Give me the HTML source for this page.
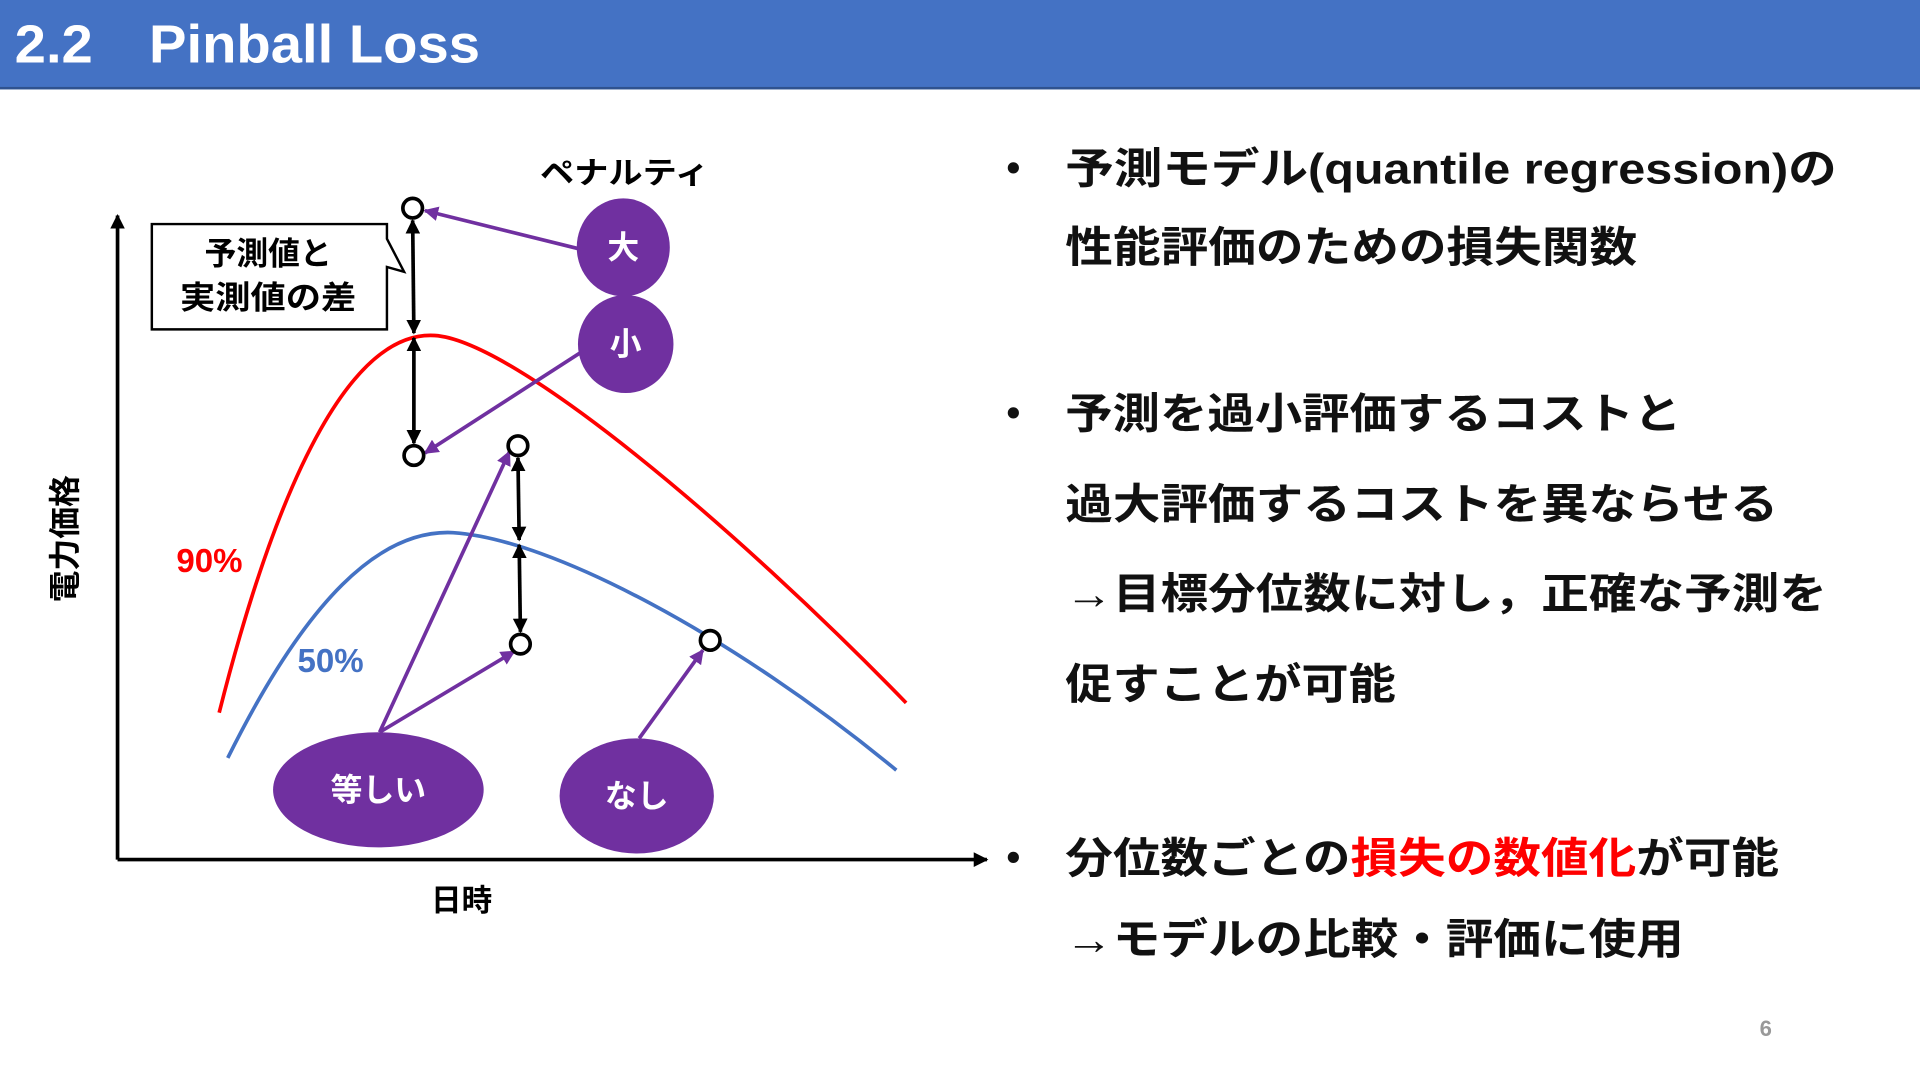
<!DOCTYPE html>
<html><head><meta charset="utf-8"><style>
html,body{margin:0;padding:0;width:1920px;height:1080px;overflow:hidden;background:#fff}
svg{display:block}
text{font-family:"Liberation Sans","Noto Sans CJK JP",sans-serif;font-weight:bold}
</style></head><body>
<svg width="1920" height="1080" viewBox="0 0 1568 882" xmlns="http://www.w3.org/2000/svg">
<defs>
<marker id="ab" viewBox="0 0 10 10" refX="9" refY="5" markerWidth="4" markerHeight="4" orient="auto-start-reverse"><path d="M0,0L10,5L0,10z" fill="#000"/></marker>
<marker id="ap" viewBox="0 0 10 10" refX="9" refY="5" markerWidth="4" markerHeight="4" orient="auto"><path d="M0,0L10,5L0,10z" fill="#7030A0"/></marker>
</defs>
<rect x="0" y="0" width="1568" height="73" fill="#4472C4"/>
<rect x="0" y="71" width="1568" height="2" fill="#2F528F"/>
<text x="12" y="51" font-size="44" fill="#fff" textLength="380" lengthAdjust="spacingAndGlyphs">2.2　Pinball Loss</text>

<!-- axes -->
<line x1="96" y1="702" x2="96" y2="176" stroke="#000" stroke-width="3" marker-end="url(#ab)"/>
<line x1="96" y1="702" x2="806" y2="702" stroke="#000" stroke-width="3" marker-end="url(#ab)"/>
<text transform="translate(62,440) rotate(-90)" font-size="26" text-anchor="middle">電力価格</text>
<text x="377" y="744" font-size="25" text-anchor="middle">日時</text>

<!-- curves -->
<path d="M179,582 C230,380 290,270 355,274 C420,278 600,430 740,574" fill="none" stroke="#F00" stroke-width="3"/>
<path d="M186,619 C250,490 310,432 370,435 C450,440 600,520 732,629" fill="none" stroke="#4472C4" stroke-width="3"/>
<text x="144" y="467" font-size="27" fill="#F00">90%</text>
<text x="243" y="549" font-size="27" fill="#4472C4">50%</text>

<!-- callout -->
<path d="M124,183 H316 V195 L330,222 L316,218 V269 H124 Z" fill="#fff" stroke="#000" stroke-width="2"/>
<text x="219" y="216" font-size="26" text-anchor="middle">予測値と</text>
<text x="219" y="252" font-size="26" text-anchor="middle" textLength="144" lengthAdjust="spacingAndGlyphs">実測値の差</text>

<!-- double arrows -->
<line x1="337" y1="180" x2="338" y2="272" stroke="#000" stroke-width="3" marker-start="url(#ab)" marker-end="url(#ab)"/>
<line x1="338" y1="276" x2="338" y2="362" stroke="#000" stroke-width="3" marker-start="url(#ab)" marker-end="url(#ab)"/>
<line x1="423" y1="374" x2="424" y2="441" stroke="#000" stroke-width="3" marker-start="url(#ab)" marker-end="url(#ab)"/>
<line x1="424" y1="445" x2="425" y2="516" stroke="#000" stroke-width="3" marker-start="url(#ab)" marker-end="url(#ab)"/>

<!-- purple arrows -->
<g stroke="#7030A0" stroke-width="3" fill="none">
<line x1="472" y1="203" x2="347" y2="172" marker-end="url(#ap)"/>
<line x1="474" y1="288" x2="347" y2="370" marker-end="url(#ap)"/>
<line x1="310" y1="598" x2="416" y2="369" marker-end="url(#ap)"/>
<line x1="310" y1="598" x2="420" y2="532" marker-end="url(#ap)"/>
<line x1="522" y1="603" x2="574" y2="531" marker-end="url(#ap)"/>
</g>

<!-- circles -->
<g fill="#fff" stroke="#000" stroke-width="3">
<circle cx="337" cy="170" r="8"/>
<circle cx="338" cy="372" r="8"/>
<circle cx="423" cy="364" r="8"/>
<circle cx="425" cy="526" r="8"/>
<circle cx="580" cy="523" r="8"/>
</g>

<text x="510" y="150" font-size="25" text-anchor="middle" textLength="138" lengthAdjust="spacingAndGlyphs">ペナルティ</text>
<g fill="#7030A0">
<ellipse cx="509" cy="202" rx="38" ry="40"/>
<ellipse cx="511" cy="281" rx="39" ry="40"/>
<ellipse cx="309" cy="645" rx="86" ry="47"/>
<ellipse cx="520" cy="650" rx="63" ry="47"/>
</g>
<g fill="#fff" font-size="26" text-anchor="middle">
<text x="509" y="211">大</text>
<text x="511" y="290">小</text>
<text x="309" y="654">等しい</text>
<text x="520" y="659">なし</text>
</g>

<!-- right text -->
<g font-size="35" fill="#111" lengthAdjust="spacingAndGlyphs">
<text x="822" y="148" font-size="32">•</text>
<text x="870" y="150" textLength="630" lengthAdjust="spacingAndGlyphs">予測モデル(quantile regression)の</text>
<text x="870" y="214" textLength="467" lengthAdjust="spacingAndGlyphs">性能評価のための損失関数</text>
<text x="822" y="348" font-size="32">•</text>
<text x="870" y="350" textLength="503" lengthAdjust="spacingAndGlyphs">予測を過小評価するコストと</text>
<text x="870" y="424" textLength="582" lengthAdjust="spacingAndGlyphs">過大評価するコストを異ならせる</text>
<text x="870" y="497" textLength="622" lengthAdjust="spacingAndGlyphs">→目標分位数に対し，正確な予測を</text>
<text x="870" y="571" textLength="270" lengthAdjust="spacingAndGlyphs">促すことが可能</text>
<text x="822" y="711" font-size="32">•</text>
<text x="870" y="713" textLength="583" lengthAdjust="spacingAndGlyphs">分位数ごとの<tspan fill="#F00">損失の数値化</tspan>が可能</text>
<text x="870" y="779" textLength="505" lengthAdjust="spacingAndGlyphs">→モデルの比較・評価に使用</text>
</g>
<text x="1442" y="846" font-size="18" fill="#999" font-weight="normal" text-anchor="middle">6</text>
</svg>
</body></html>
